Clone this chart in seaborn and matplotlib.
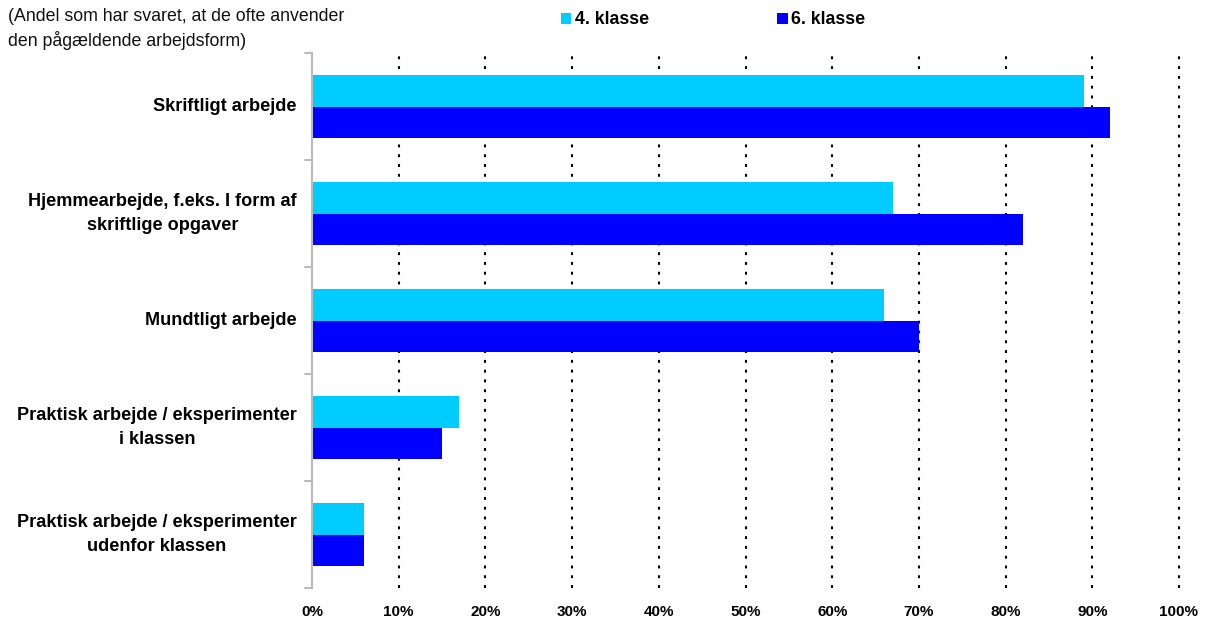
import matplotlib
matplotlib.use("Agg")
import matplotlib.pyplot as plt
import seaborn as sns
import pandas as pd
from matplotlib.patches import Patch

categories = ["Skriftligt arbejde",
              "Hjemmearbejde, f.eks. I form af\nskriftlige opgaver",
              "Mundtligt arbejde",
              "Praktisk arbejde / eksperimenter\ni klassen",
              "Praktisk arbejde / eksperimenter\nudenfor klassen"]
series = ["4. klasse", "6. klasse"]
vals_4 = [89, 67, 66, 17, 6]
vals_6 = [92, 82, 70, 15, 6]
colors = ["#00CCFF", "#0000FF"]
xticks = [0, 10, 20, 30, 40, 50, 60, 70, 80, 90, 100]

df = pd.DataFrame({
    "cat": categories * 2,
    "klasse": [series[0]] * 5 + [series[1]] * 5,
    "val": vals_4 + vals_6,
})

sns.set_style("white")
plt.rcParams['font.family'] = ['Liberation Sans', 'DejaVu Sans']
plt.rcParams['text.color'] = '#000000'
plt.rcParams['xtick.color'] = '#000000'
plt.rcParams['ytick.color'] = '#000000'

fig = plt.figure(figsize=(12.08, 6.17), dpi=100)
ax = fig.add_axes([312/1208, 1 - 588/617, (1179-312)/1208, (588-53)/617])

sns.barplot(data=df, y="cat", x="val", hue="klasse", order=categories,
            hue_order=series, palette=colors, orient="h", width=0.58,
            saturation=1, ax=ax, legend=False, zorder=3, linewidth=0)

ax.set_xlim(0, 100)
ax.set_ylim(4.5, -0.5)
ax.set_xticks(xticks)
ax.set_xticklabels([f"{t}%" for t in xticks], fontsize=11, fontweight="bold")
for t in xticks[1:]:
    ax.axvline(t, color="black", linestyle=(0, (1.4, 3.3)), linewidth=1.5,
               zorder=1, clip_on=False)
ax.set_yticks(range(len(categories)))
ax.set_yticklabels(categories, fontsize=13.1, fontweight="bold",
                   ha="right", va="center", multialignment="center", linespacing=1.6)
ax.tick_params(axis="y", length=0, pad=11)
ax.tick_params(axis="x", length=0, pad=12)
# category separator ticks
for b in [-0.5, 0.5, 1.5, 2.5, 3.5, 4.5]:
    ax.plot([-0.008, 0], [b, b], transform=ax.get_yaxis_transform(), color="#BBBBBB",
            linewidth=1.5, clip_on=False)
ax.set_xlabel("")
ax.set_ylabel("")
for s in ["top", "right", "bottom"]:
    ax.spines[s].set_visible(False)
ax.spines["left"].set_color("#BBBBBB")
ax.spines["left"].set_linewidth(1.5)
ax.spines["left"].set_zorder(4)

fig.text(8/1208, 1 - 29/617, "(Andel som har svaret, at de ofte anvender\nden pågældende arbejdsform)",
         fontsize=12.8, va="center", ha="left", color="#111111", linespacing=1.35)

handles = [Patch(facecolor=c, edgecolor="none") for c in colors]
fig.legend(handles, series, loc="center", bbox_to_anchor=(713/1208, 1 - 20/617), ncol=2,
           frameon=False, prop={"weight": "bold", "size": 12.8}, handlelength=0.6,
           handleheight=0.6, handletextpad=0.2, columnspacing=7.2)

fig.savefig("out.png", dpi=100)
